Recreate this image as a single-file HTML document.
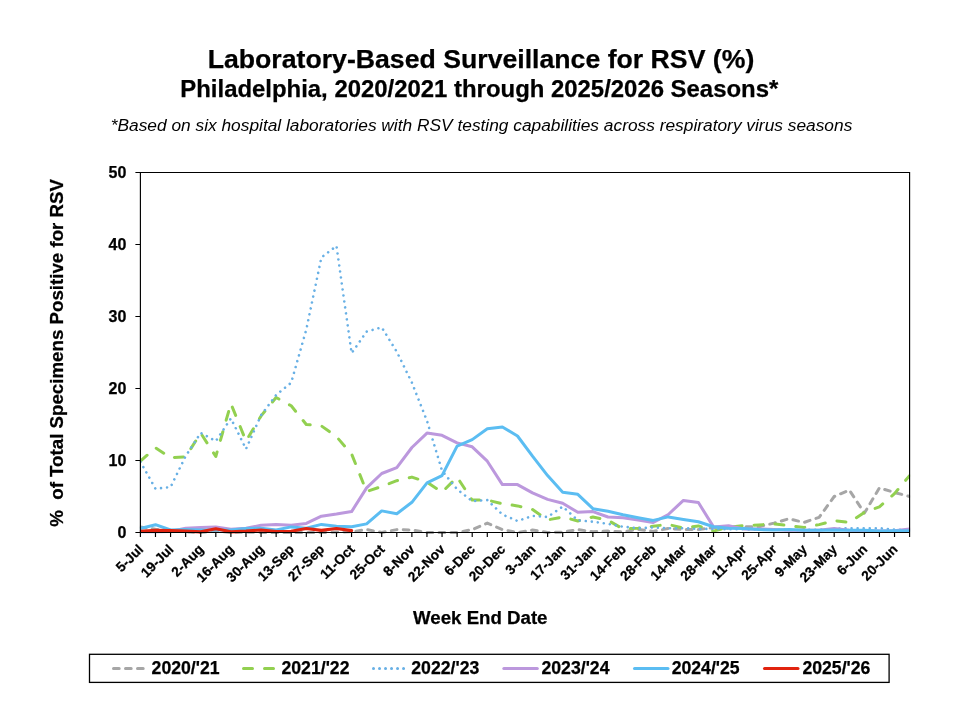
<!DOCTYPE html>
<html lang="en"><head><meta charset="utf-8"><title>Laboratory-Based Surveillance for RSV</title>
<style>
html,body{margin:0;padding:0;background:#fff;}
body{width:960px;height:720px;overflow:hidden;}
svg{display:block;will-change:transform;font-family:"Liberation Sans",Arial,Helvetica,sans-serif;}
text{fill:#000;}
.b{font-weight:bold;stroke:#000;stroke-width:0.25px;}
</style></head><body>
<svg width="960" height="720" viewBox="0 0 960 720">
<rect width="960" height="720" fill="#fff"/>
<text class="b" x="481" y="67.5" font-size="26.67" text-anchor="middle">Laboratory-Based Surveillance for RSV (%)</text>
<text class="b" x="479.3" y="97.2" font-size="23.92" text-anchor="middle">Philadelphia, 2020/2021 through 2025/2026 Seasons*</text>
<text x="481.5" y="131.1" font-size="17.33" font-style="italic" text-anchor="middle">*Based on six hospital laboratories with RSV testing capabilities across respiratory virus seasons</text>
<defs><clipPath id="pc"><rect x="139.9" y="172.5" width="770.2" height="363.0"/></clipPath></defs>
<g fill="none" stroke-width="3" stroke-linejoin="round" clip-path="url(#pc)">
<polyline stroke="#A6A6A6" stroke-dasharray="5.7 6.3" stroke-linecap="round" points="140.4,527.1 155.5,529.3 170.6,530.0 185.6,531.8 200.7,532.5 215.8,531.1 230.9,532.5 246.0,532.1 261.1,532.5 276.1,532.5 291.2,532.5 306.3,532.5 321.4,532.5 336.5,532.1 351.6,531.8 366.6,529.6 381.7,532.5 396.8,529.6 411.9,530.0 427.0,532.5 442.0,532.5 457.1,532.5 472.2,529.6 487.3,523.1 502.4,529.6 517.5,532.5 532.5,530.0 547.6,532.5 562.7,532.1 577.8,529.6 592.9,531.8 608.0,531.1 623.0,531.8 638.1,529.3 653.2,531.4 668.3,528.5 683.4,529.6 698.4,529.6 713.5,527.5 728.6,528.2 743.7,526.7 758.8,526.7 773.9,523.1 788.9,518.8 804.0,522.4 819.1,517.4 834.2,496.5 849.3,490.0 864.4,513.1 879.4,487.9 894.5,492.5 909.6,496.5"/>
<polyline stroke="#92D050" stroke-dasharray="9 12" stroke-linecap="round" points="140.4,461.2 155.5,447.8 170.6,457.6 185.6,456.9 200.7,433.1 215.8,456.5 230.9,403.6 246.0,441.1 261.1,415.9 276.1,397.5 291.2,405.8 306.3,424.5 321.4,425.9 336.5,436.7 351.6,454.0 366.6,491.5 381.7,486.4 396.8,480.7 411.9,477.1 427.0,482.1 442.0,492.2 457.1,477.1 472.2,500.1 487.3,500.1 502.4,503.7 517.5,505.9 532.5,509.5 547.6,519.9 562.7,517.0 577.8,521.0 592.9,517.0 608.0,520.3 623.0,528.9 638.1,528.2 653.2,526.2 668.3,524.4 683.4,528.2 698.4,525.9 713.5,531.1 728.6,527.1 743.7,525.7 758.8,524.9 773.9,523.9 788.9,525.7 804.0,527.5 819.1,524.6 834.2,520.6 849.3,522.4 864.4,512.3 879.4,506.9 894.5,493.6 909.6,475.6"/>
<polyline stroke="#68B0E5" stroke-width="2.6" stroke-dasharray="0.01 6.045" stroke-linecap="round" points="140.4,461.9 155.5,488.7 170.6,487.1 185.6,456.2 200.7,432.9 215.8,441.1 230.9,418.4 246.0,449.0 261.1,415.1 276.1,395.0 291.2,382.7 306.3,329.5 321.4,257.5 336.5,245.9 351.6,353.2 366.6,331.6 381.7,327.3 396.8,351.8 411.9,382.7 427.0,420.9 442.0,470.6 457.1,489.3 472.2,501.2 487.3,500.1 502.4,514.5 517.5,521.0 532.5,515.9 547.6,517.0 562.7,506.6 577.8,520.3 592.9,521.7 608.0,523.9 623.0,526.7 638.1,528.2 653.2,527.5 668.3,528.2 683.4,528.2 698.4,528.9 713.5,528.9 728.6,529.3 743.7,529.3 758.8,529.6 773.9,529.6 788.9,530.0 804.0,530.0 819.1,529.6 834.2,528.9 849.3,528.2 864.4,528.2 879.4,528.2 894.5,529.6 909.6,530.3"/>
<polyline stroke="#BC98DD" stroke-linecap="round" points="140.4,531.8 155.5,531.8 170.6,531.4 185.6,528.2 200.7,527.5 215.8,527.1 230.9,529.3 246.0,528.2 261.1,525.3 276.1,524.4 291.2,525.3 306.3,523.4 321.4,516.2 336.5,514.1 351.6,511.6 366.6,487.9 381.7,473.5 396.8,467.7 411.9,447.5 427.0,433.1 442.0,435.3 457.1,442.9 472.2,446.8 487.3,461.2 502.4,484.6 517.5,484.6 532.5,492.9 547.6,499.4 562.7,503.3 577.8,512.3 592.9,511.6 608.0,517.0 623.0,517.7 638.1,520.0 653.2,522.5 668.3,514.5 683.4,500.4 698.4,502.5 713.5,526.9 728.6,525.7 743.7,528.9 758.8,528.9 773.9,529.6 788.9,530.3 804.0,530.3 819.1,530.3 834.2,528.5 849.3,530.3 864.4,531.1 879.4,531.1 894.5,530.7 909.6,528.9"/>
<polyline stroke="#5BBDF2" stroke-linecap="round" points="140.4,528.5 155.5,524.7 170.6,530.0 185.6,529.6 200.7,530.0 215.8,530.0 230.9,530.0 246.0,528.5 261.1,528.2 276.1,530.0 291.2,526.9 306.3,528.2 321.4,524.4 336.5,526.2 351.6,526.7 366.6,523.9 381.7,510.9 396.8,513.8 411.9,502.3 427.0,482.8 442.0,475.6 457.1,446.1 472.2,439.6 487.3,428.8 502.4,427.0 517.5,436.0 532.5,456.2 547.6,475.6 562.7,492.2 577.8,494.3 592.9,508.7 608.0,511.3 623.0,514.7 638.1,517.7 653.2,520.4 668.3,516.9 683.4,519.4 698.4,521.8 713.5,526.7 728.6,528.2 743.7,528.5 758.8,529.6 773.9,530.0 788.9,529.6 804.0,530.3 819.1,530.3 834.2,530.0 849.3,530.3 864.4,530.3 879.4,531.1 894.5,530.7 909.6,530.7"/>
<polyline stroke="#E1230F" stroke-width="3.2" stroke-linecap="round" points="140.4,531.3 155.5,530.3 170.6,530.6 185.6,531.1 200.7,531.8 215.8,528.8 230.9,531.8 246.0,531.1 261.1,530.0 276.1,531.5 291.2,531.3 306.3,528.5 321.4,530.3 336.5,528.5 351.6,530.6"/>
</g>
<g stroke="#000" stroke-width="1.15" fill="none">
<path d="M140.4,172.5 H909.6 V532.5 H135.4 M140.4,537.0 V172.5 M135.4,460.5 H140.4 M135.4,388.5 H140.4 M135.4,316.5 H140.4 M135.4,244.5 H140.4 M135.4,172.5 H140.4 M140.40,532.5 v4.5 M155.48,532.5 v4.5 M170.56,532.5 v4.5 M185.65,532.5 v4.5 M200.73,532.5 v4.5 M215.81,532.5 v4.5 M230.89,532.5 v4.5 M245.98,532.5 v4.5 M261.06,532.5 v4.5 M276.14,532.5 v4.5 M291.22,532.5 v4.5 M306.31,532.5 v4.5 M321.39,532.5 v4.5 M336.47,532.5 v4.5 M351.55,532.5 v4.5 M366.64,532.5 v4.5 M381.72,532.5 v4.5 M396.80,532.5 v4.5 M411.88,532.5 v4.5 M426.96,532.5 v4.5 M442.05,532.5 v4.5 M457.13,532.5 v4.5 M472.21,532.5 v4.5 M487.29,532.5 v4.5 M502.38,532.5 v4.5 M517.46,532.5 v4.5 M532.54,532.5 v4.5 M547.62,532.5 v4.5 M562.71,532.5 v4.5 M577.79,532.5 v4.5 M592.87,532.5 v4.5 M607.95,532.5 v4.5 M623.04,532.5 v4.5 M638.12,532.5 v4.5 M653.20,532.5 v4.5 M668.28,532.5 v4.5 M683.36,532.5 v4.5 M698.45,532.5 v4.5 M713.53,532.5 v4.5 M728.61,532.5 v4.5 M743.69,532.5 v4.5 M758.78,532.5 v4.5 M773.86,532.5 v4.5 M788.94,532.5 v4.5 M804.02,532.5 v4.5 M819.11,532.5 v4.5 M834.19,532.5 v4.5 M849.27,532.5 v4.5 M864.35,532.5 v4.5 M879.44,532.5 v4.5 M894.52,532.5 v4.5 M909.60,532.5 v4.5"/>
</g>
<g class="b" font-size="16" text-anchor="end">
<text x="126.3" y="537.8">0</text>
<text x="126.3" y="465.8">10</text>
<text x="126.3" y="393.8">20</text>
<text x="126.3" y="321.8">30</text>
<text x="126.3" y="249.8">40</text>
<text x="126.3" y="177.8">50</text>
</g>
<g class="b" font-size="13.7" text-anchor="end" stroke="#000" stroke-width="0.3">
<text transform="translate(144.2,550.2) rotate(-45)">5-Jul</text>
<text transform="translate(174.4,550.2) rotate(-45)">19-Jul</text>
<text transform="translate(204.5,550.2) rotate(-45)">2-Aug</text>
<text transform="translate(234.7,550.2) rotate(-45)">16-Aug</text>
<text transform="translate(264.9,550.2) rotate(-45)">30-Aug</text>
<text transform="translate(295.0,550.2) rotate(-45)">13-Sep</text>
<text transform="translate(325.2,550.2) rotate(-45)">27-Sep</text>
<text transform="translate(355.4,550.2) rotate(-45)">11-Oct</text>
<text transform="translate(385.5,550.2) rotate(-45)">25-Oct</text>
<text transform="translate(415.7,550.2) rotate(-45)">8-Nov</text>
<text transform="translate(445.8,550.2) rotate(-45)">22-Nov</text>
<text transform="translate(476.0,550.2) rotate(-45)">6-Dec</text>
<text transform="translate(506.2,550.2) rotate(-45)">20-Dec</text>
<text transform="translate(536.3,550.2) rotate(-45)">3-Jan</text>
<text transform="translate(566.5,550.2) rotate(-45)">17-Jan</text>
<text transform="translate(596.7,550.2) rotate(-45)">31-Jan</text>
<text transform="translate(626.8,550.2) rotate(-45)">14-Feb</text>
<text transform="translate(657.0,550.2) rotate(-45)">28-Feb</text>
<text transform="translate(687.2,550.2) rotate(-45)">14-Mar</text>
<text transform="translate(717.3,550.2) rotate(-45)">28-Mar</text>
<text transform="translate(747.5,550.2) rotate(-45)">11-Apr</text>
<text transform="translate(777.7,550.2) rotate(-45)">25-Apr</text>
<text transform="translate(807.8,550.2) rotate(-45)">9-May</text>
<text transform="translate(838.0,550.2) rotate(-45)">23-May</text>
<text transform="translate(868.2,550.2) rotate(-45)">6-Jun</text>
<text transform="translate(898.3,550.2) rotate(-45)">20-Jun</text>
</g>
<text class="b" x="480.3" y="624.4" font-size="18.67" text-anchor="middle">Week End Date</text>
<text class="b" font-size="18.72" text-anchor="middle" transform="translate(63.3,352.9) rotate(-90)" xml:space="preserve">%  of Total Specimens Positive for RSV</text>
<rect x="89.5" y="654.3" width="799.6" height="28.1" fill="#fff" stroke="#000" stroke-width="1.3"/>
<line x1="113.5" y1="668.6" x2="147.0" y2="668.6" stroke="#A6A6A6" stroke-width="3" stroke-linecap="round" stroke-dasharray="5.7 6.3"/>
<text class="b" x="151.6" y="674.2" font-size="17.65">2020/'21</text>
<line x1="243.5" y1="668.6" x2="277.0" y2="668.6" stroke="#92D050" stroke-width="3" stroke-linecap="round" stroke-dasharray="9 12"/>
<text class="b" x="281.5" y="674.2" font-size="17.65">2021/'22</text>
<line x1="373.5" y1="668.6" x2="407.0" y2="668.6" stroke="#68B0E5" stroke-width="3" stroke-linecap="round" stroke-dasharray="0.01 6"/>
<text class="b" x="411.3" y="674.2" font-size="17.65">2022/'23</text>
<line x1="503.8" y1="668.6" x2="537.3" y2="668.6" stroke="#BC98DD" stroke-width="3" stroke-linecap="round"/>
<text class="b" x="541.5" y="674.2" font-size="17.65">2023/'24</text>
<line x1="634.5" y1="668.6" x2="668.0" y2="668.6" stroke="#5BBDF2" stroke-width="3" stroke-linecap="round"/>
<text class="b" x="671.7" y="674.2" font-size="17.65">2024/'25</text>
<line x1="764.5" y1="668.6" x2="798.0" y2="668.6" stroke="#E1230F" stroke-width="3" stroke-linecap="round"/>
<text class="b" x="802.4" y="674.2" font-size="17.65">2025/'26</text>
</svg>
</body></html>
